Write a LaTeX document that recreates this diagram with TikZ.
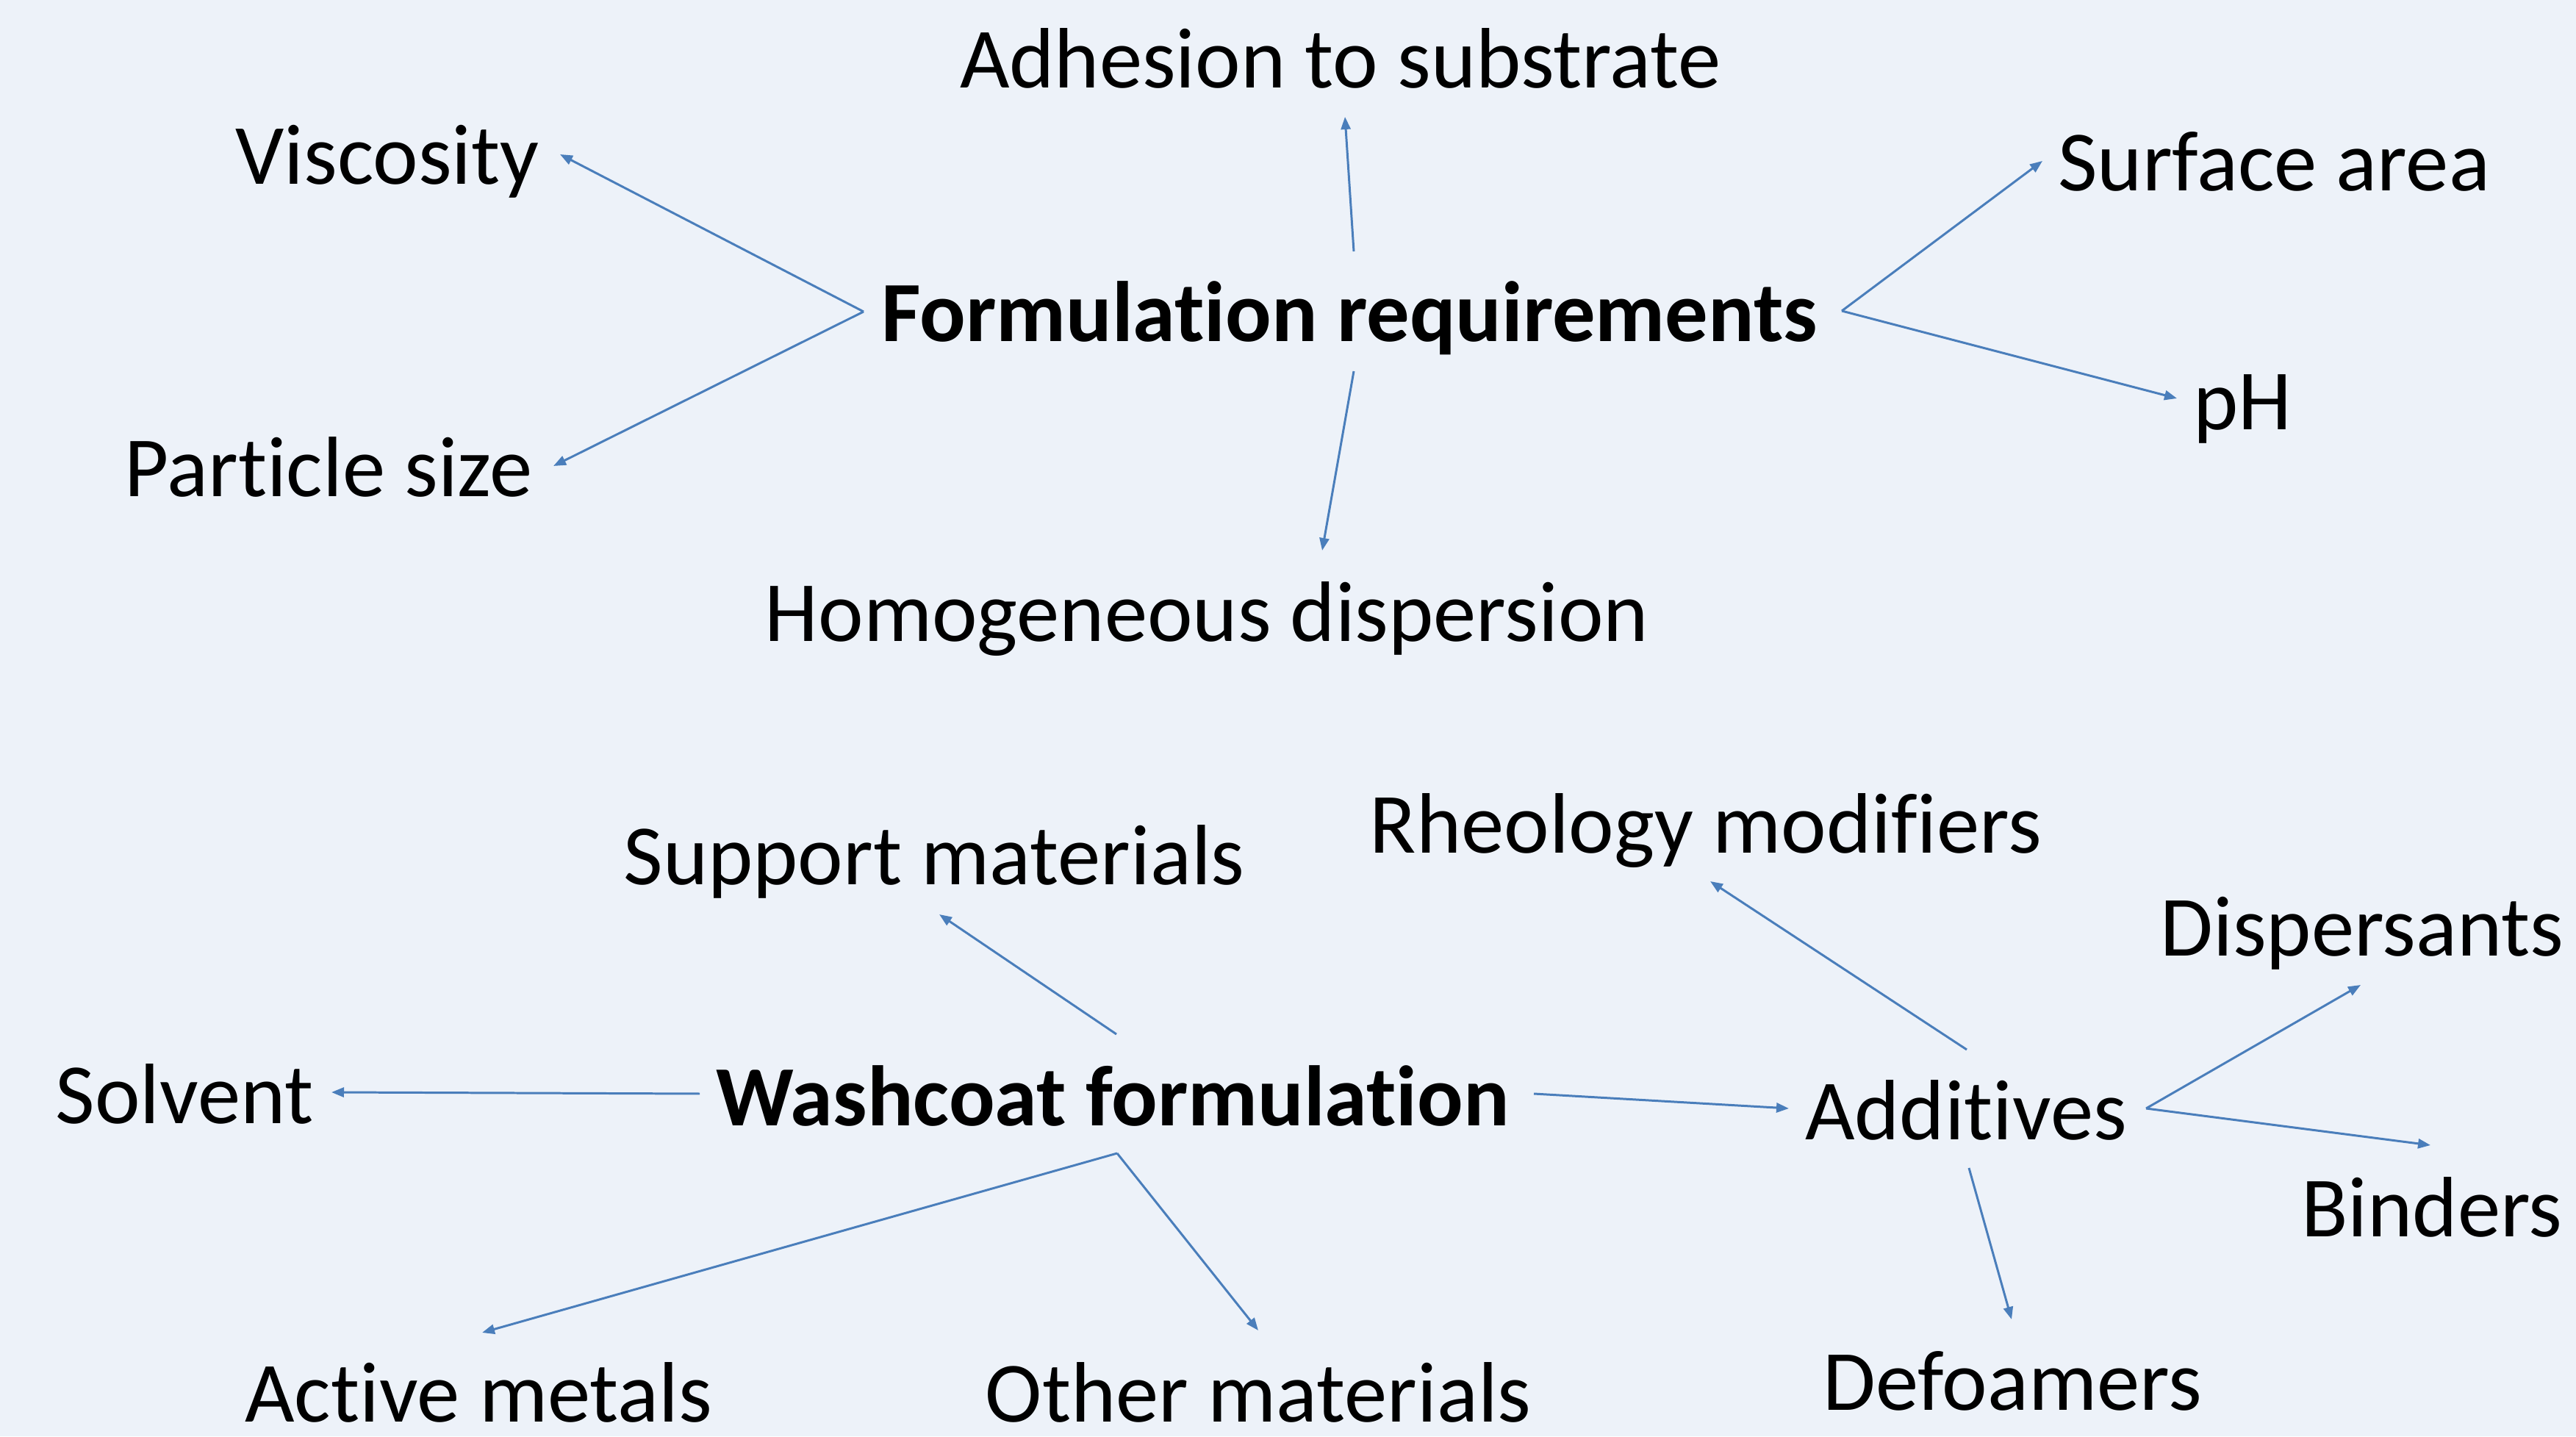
\documentclass[tikz,border=0pt]{standalone}
\usepackage{fontspec}
\setmainfont{Carlito}[Ligatures={NoCommon}]
\usetikzlibrary{arrows.meta}
\definecolor{bgblue}{RGB}{237,242,249}
\definecolor{lineblue}{RGB}{74,126,187}

\begin{document}
\begin{tikzpicture}[font=\fontsize{33.2}{40}\selectfont]
	\tikzstyle{itemStyle}=[inner sep = 0pt, anchor = base]
	\tikzstyle{hubStyle}=[inner sep = 0pt, anchor = base, font=\fontsize{33.2}{40}\selectfont\bfseries]
	\tikzstyle{arrowStyle}=[draw = lineblue, line width = 0.85pt, -{Triangle[length=0.17cm, width=0.13cm]}]
	\fill[bgblue] (0,0) rectangle (35.05,19.54);
	\useasboundingbox (0,0) rectangle (35.05,19.54);
	% formulation requirements
	\node[hubStyle]  (req)       at (18.36,14.89) {Formulation requirements};
	\node[itemStyle] (adhesion)  at (18.24,18.34) {Adhesion to substrate};
	\node[itemStyle] (viscosity) at (5.27,17.03)  {Viscosity};
	\node[itemStyle] (particle)  at (4.47,12.78)  {Particle size};
	\node[itemStyle] (homog)     at (16.42,10.81) {Homogeneous dispersion};
	\node[itemStyle] (surface)   at (30.94,16.94) {Surface area};
	\node[itemStyle] (ph)        at (30.51,13.69) {pH};
	% washcoat formulation
	\node[hubStyle]  (washcoat)  at (15.14,4.23)  {Washcoat formulation};
	\node[itemStyle] (support)   at (12.71,7.50)  {Support materials};
	\node[itemStyle] (solvent)   at (2.51,4.26)   {Solvent};
	\node[itemStyle] (active)    at (6.51,0.20)   {Active metals};
	\node[itemStyle] (other)     at (17.12,0.20)  {Other materials};
	\node[itemStyle] (additives) at (26.75,4.04)  {Additives};
	\node[itemStyle] (rheology)  at (23.21,7.93)  {Rheology modifiers};
	\node[itemStyle] (dispers)   at (32.14,6.53)  {Dispersants};
	\node[itemStyle] (binders)   at (33.09,2.72)  {Binders};
	\node[itemStyle] (defoam)    at (27.38,0.36)  {Defoamers};
	% arrow ends
	\coordinate (req-w)       at (11.75,15.30);
	\coordinate (req-n)       at (18.42,16.12);
	\coordinate (req-s)       at (18.42,14.49);
	\coordinate (req-e)       at (25.06,15.31);
	\coordinate (adhesion-s)  at (18.30,17.95);
	\coordinate (viscosity-e) at (7.62,17.44);
	\coordinate (particle-e)  at (7.53,13.20);
	\coordinate (homog-n)     at (17.99,12.05);
	\coordinate (surface-w)   at (27.79,17.35);
	\coordinate (ph-w)        at (29.62,14.12);
	\coordinate (wash-n)      at (15.19,5.47);
	\coordinate (wash-w)      at (9.52,4.66);
	\coordinate (wash-e)      at (20.87,4.66);
	\coordinate (wash-s)      at (15.20,3.85);
	\coordinate (support-s)   at (12.78,7.10);
	\coordinate (solvent-e)   at (4.51,4.68);
	\coordinate (active-n)    at (6.56,1.41);
	\coordinate (other-n)     at (17.12,1.44);
	\coordinate (add-w)       at (24.34,4.46);
	\coordinate (add-n)       at (26.76,5.26);
	\coordinate (add-e)       at (29.20,4.46);
	\coordinate (add-s)       at (26.79,3.65);
	\coordinate (rheology-s)  at (23.27,7.55);
	\coordinate (dispers-w)   at (32.12,6.14);
	\coordinate (binders-w)   at (33.07,3.96);
	\coordinate (defoam-n)    at (27.37,1.59);
	% arrows
	\draw[arrowStyle] (req-w) -- (viscosity-e);
	\draw[arrowStyle] (req-w) -- (particle-e);
	\draw[arrowStyle] (req-n) -- (adhesion-s);
	\draw[arrowStyle] (req-s) -- (homog-n);
	\draw[arrowStyle] (req-e) -- (surface-w);
	\draw[arrowStyle] (req-e) -- (ph-w);
	\draw[arrowStyle] (wash-n) -- (support-s);
	\draw[arrowStyle] (wash-w) -- (solvent-e);
	\draw[arrowStyle] (wash-e) -- (add-w);
	\draw[arrowStyle] (wash-s) -- (active-n);
	\draw[arrowStyle] (wash-s) -- (other-n);
	\draw[arrowStyle] (add-n) -- (rheology-s);
	\draw[arrowStyle] (add-e) -- (dispers-w);
	\draw[arrowStyle] (add-e) -- (binders-w);
	\draw[arrowStyle] (add-s) -- (defoam-n);
\end{tikzpicture}
\end{document}
